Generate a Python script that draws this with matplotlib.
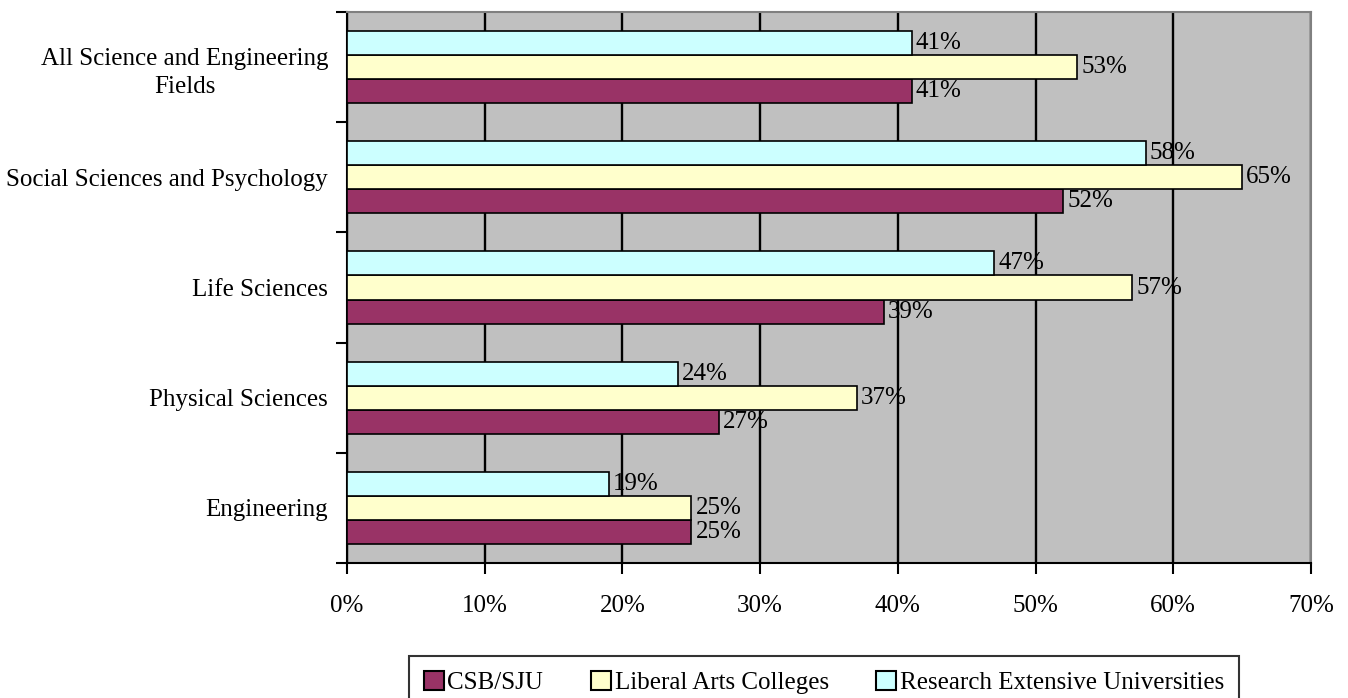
import matplotlib
matplotlib.use("Agg")
import matplotlib.pyplot as plt
from matplotlib.patches import Patch
import numpy as np

categories = ["Engineering", "Physical Sciences", "Life Sciences",
              "Social Sciences and Psychology", "All Science and Engineering\nFields"]
csb_sju = [25, 27, 39, 52, 41]
liberal_arts = [25, 37, 57, 65, 53]
research_ext = [19, 24, 47, 58, 41]
series_names = ["CSB/SJU", "Liberal Arts Colleges", "Research Extensive Universities"]
colors = ["#993366", "#FFFFCC", "#CCFFFF"]
xticks = [0, 10, 20, 30, 40, 50, 60, 70]

plt.rcParams['font.family'] = ['Liberation Serif', 'DejaVu Serif']
fs = 18

fig = plt.figure(figsize=(13.48, 6.98), dpi=100)
ax = fig.add_axes([347/1348, 1 - 563/698, (1311-347)/1348, (563-12)/698])
ax.set_facecolor("#C0C0C0")

y = np.arange(len(categories))
h = 0.218
series = [csb_sju, liberal_arts, research_ext]
offsets = [-h, 0, h]
for vals, off, col in zip(series, offsets, colors):
    ax.barh(y + off, vals, height=h, color=col, edgecolor="black", linewidth=1.2, zorder=3)
    for yi, v in zip(y, vals):
        ax.text(v + 0.3, yi + off, f"{v}%", va="center", ha="left", fontsize=fs, zorder=4)

ax.set_xlim(0, 70)
ax.set_ylim(-0.5, len(categories) - 0.5)
ax.set_xticks(xticks)
ax.set_xticklabels([f"{t}%" for t in xticks], fontsize=fs)
ax.xaxis.grid(True, color="black", linewidth=1.7, zorder=1)
ax.set_axisbelow(True)
ax.tick_params(axis="x", length=8, width=1.5, direction="out", pad=15)

ax.set_yticks(y)
ax.set_yticklabels(categories, fontsize=fs, multialignment="center", linespacing=1.4)
ax.tick_params(axis="y", which="major", length=0, pad=13.5)
ax.set_yticks(np.arange(-0.5, len(categories)), minor=True)
ax.tick_params(axis="y", which="minor", length=8, width=1.5, direction="out")

for s in ["left", "bottom"]:
    ax.spines[s].set_color("black")
    ax.spines[s].set_linewidth(1.5)
for s in ["top", "right"]:
    ax.spines[s].set_color("#808080")
    ax.spines[s].set_linewidth(1.5)

handles = [Patch(facecolor=c, edgecolor="black", linewidth=1.5) for c in colors]
leg = fig.legend(handles, series_names, loc="upper center",
                 bbox_to_anchor=(824/1348, 1 - 656/698), ncol=3, fontsize=fs,
                 frameon=True, fancybox=False, edgecolor="black",
                 handlelength=0.8, handleheight=0.8, handletextpad=0.15,
                 columnspacing=1.9, borderpad=0.6, borderaxespad=0)
leg.get_frame().set_linewidth(1.5)

fig.savefig("out.png", dpi=100)
